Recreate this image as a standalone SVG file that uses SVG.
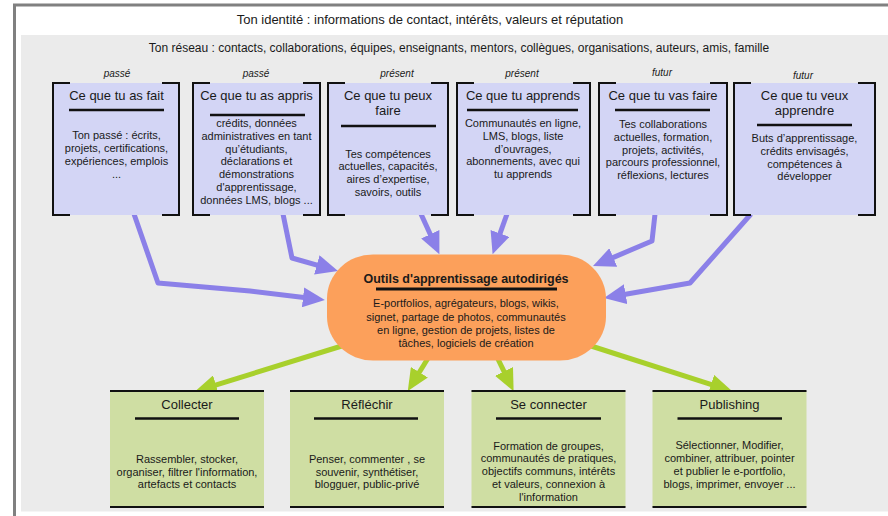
<svg xmlns="http://www.w3.org/2000/svg" width="888" height="516" viewBox="0 0 888 516">
<style>
text{font-family:"Liberation Sans",Arial,Helvetica,sans-serif;fill:#1a1a1a;text-anchor:middle}
.hd{font-size:13px}
.nw{font-size:12px}
.it{font-size:10px;font-style:italic}
.ti{font-size:13px}
.bd{font-size:11px}
.bt{font-size:12.5px;font-weight:bold}
.top{fill:#d3d5f5}
.bot{fill:#cfdea3}
.brk{fill:none;stroke:#111;stroke-width:2}
.sep{stroke:#111;stroke-width:2.5}
.pa{fill:none;stroke:#8b80e8;stroke-width:5;stroke-linejoin:round;marker-end:url(#ap)}
.ga{fill:none;stroke:#a8d02c;stroke-width:5;marker-end:url(#ag)}
</style>
<defs>
<marker id="ap" markerUnits="userSpaceOnUse" markerWidth="22" markerHeight="20" refX="3" refY="10" orient="auto"><path d="M0,0 L22,10 L0,20 z" fill="#8b80e8"/></marker>
<marker id="ag" markerUnits="userSpaceOnUse" markerWidth="22" markerHeight="20" refX="3" refY="10" orient="auto"><path d="M0,0 L22,10 L0,20 z" fill="#a8d02c"/></marker>
</defs>
<rect x="0" y="0" width="888" height="516" fill="#fff"/>
<path d="M14.5,516 V5 H888" fill="none" stroke="#808080" stroke-width="3"/>
<rect x="21" y="35" width="867" height="476.5" fill="#ebebeb"/>
<text class="hd" x="430" y="23.5">Ton identité : informations de contact, intérêts, valeurs et réputation</text>
<text class="nw" x="459" y="52">Ton réseau : contacts, collaborations, équipes, enseignants, mentors, collègues, organisations, auteurs, amis, famille</text>
<g id="connectors">
<path class="pa" d="M134,214 L158,283 L250,291 L306,297.7"/>
<path class="pa" d="M283,214 L292,258 L319.7,265.8"/>
<path class="pa" d="M421,214 L431.5,237"/>
<path class="pa" d="M507,214 L499,236.3"/>
<path class="pa" d="M655,214 L652,241 L610.5,258.6"/>
<path class="pa" d="M751,214 L690,283 L622.7,294.7"/>
<path class="ga" d="M345,345 L213.1,385.9"/>
<path class="ga" d="M430,355 L417.8,374.8"/>
<path class="ga" d="M496,355 L505.3,374.1"/>
<path class="ga" d="M588,345 L713.9,385.3"/>
</g>
<g id="n1">
<text class="it" x="117" y="76.5">passé</text>
<rect class="top" x="53" y="83" width="126" height="132"/>
<path class="brk" d="M70,83 H53 V215 H70 M162,83 H179 V215 H162"/>
<text class="ti" x="116.5" y="100">Ce que tu as fait</text>
<line class="sep" x1="69" y1="110" x2="164" y2="110"/>
<text class="bd" x="116.5" y="138.5">Ton passé : écrits,</text>
<text class="bd" x="116.5" y="151.5">projets, certifications,</text>
<text class="bd" x="116.5" y="164.5">expériences, emplois</text>
<text class="bd" x="116.5" y="177.5">...</text>
</g>
<g id="n2">
<text class="it" x="256" y="76.5">passé</text>
<rect class="top" x="193" y="83" width="127" height="132"/>
<path class="brk" d="M210,83 H193 V215 H210 M303,83 H320 V215 H303"/>
<text class="ti" x="256.5" y="100">Ce que tu as appris</text>
<line class="sep" x1="210" y1="115" x2="305" y2="115"/>
<text class="bd" x="256.5" y="127">crédits, données</text>
<text class="bd" x="256.5" y="139.8">administratives en tant</text>
<text class="bd" x="256.5" y="152.6">qu’étudiants,</text>
<text class="bd" x="256.5" y="165.4">déclarations et</text>
<text class="bd" x="256.5" y="178.2">démonstrations</text>
<text class="bd" x="256.5" y="191">d'apprentissage,</text>
<text class="bd" x="256.5" y="203.8">données LMS, blogs ...</text>
</g>
<g id="n3">
<text class="it" x="397" y="76.5">présent</text>
<rect class="top" x="328" y="83" width="120" height="132"/>
<path class="brk" d="M345,83 H328 V215 H345 M431,83 H448 V215 H431"/>
<text class="ti" x="388" y="100">Ce que tu peux</text>
<text class="ti" x="388" y="115">faire</text>
<line class="sep" x1="341" y1="126" x2="436" y2="126"/>
<text class="bd" x="388" y="157.5">Tes compétences</text>
<text class="bd" x="388" y="170.2">actuelles, capacités,</text>
<text class="bd" x="388" y="182.9">aires d’expertise,</text>
<text class="bd" x="388" y="195.6">savoirs, outils</text>
</g>
<g id="n4">
<text class="it" x="522" y="76.5">présent</text>
<rect class="top" x="457" y="83" width="133" height="132"/>
<path class="brk" d="M474,83 H457 V215 H474 M573,83 H590 V215 H573"/>
<text class="ti" x="523" y="100">Ce que tu apprends</text>
<line class="sep" x1="467" y1="110" x2="578" y2="110"/>
<text class="bd" x="523" y="127.3">Communautés en ligne,</text>
<text class="bd" x="523" y="140">LMS, blogs, liste</text>
<text class="bd" x="523" y="152.7">d’ouvrages,</text>
<text class="bd" x="523" y="165.4">abonnements, avec qui</text>
<text class="bd" x="523" y="178.1">tu apprends</text>
</g>
<g id="n5">
<text class="it" x="662" y="76">futur</text>
<rect class="top" x="599" y="83" width="128" height="132"/>
<path class="brk" d="M616,83 H599 V215 H616 M710,83 H727 V215 H710"/>
<text class="ti" x="663" y="100">Ce que tu vas faire</text>
<line class="sep" x1="615" y1="110" x2="710" y2="110"/>
<text class="bd" x="663" y="128">Tes collaborations</text>
<text class="bd" x="663" y="140.8">actuelles, formation,</text>
<text class="bd" x="663" y="153.6">projets, activités,</text>
<text class="bd" x="663" y="166.4">parcours professionnel,</text>
<text class="bd" x="663" y="179.2">réflexions, lectures</text>
</g>
<g id="n6">
<text class="it" x="803" y="78.5">futur</text>
<rect class="top" x="734" y="83" width="141" height="132"/>
<path class="brk" d="M751,83 H734 V215 H751 M858,83 H875 V215 H858"/>
<text class="ti" x="804.5" y="100">Ce que tu veux</text>
<text class="ti" x="804.5" y="115">apprendre</text>
<line class="sep" x1="757" y1="125" x2="852" y2="125"/>
<text class="bd" x="804.5" y="142.3">Buts d’apprentissage,</text>
<text class="bd" x="804.5" y="155">crédits envisagés,</text>
<text class="bd" x="804.5" y="167.7">compétences à</text>
<text class="bd" x="804.5" y="180.4">développer</text>
</g>
<g id="center">
<rect x="327" y="254.5" width="279" height="106" rx="46" ry="44" fill="#fca05b"/>
<text class="bt" x="466" y="282.5">Outils d'apprentissage autodirigés</text>
<line x1="376" y1="289" x2="557" y2="289" stroke="#111" stroke-width="3"/>
<text class="bd" x="466" y="307.3">E-portfolios, agrégateurs, blogs, wikis,</text>
<text class="bd" x="466" y="320.6">signet, partage de photos, communautés</text>
<text class="bd" x="466" y="333.9">en ligne, gestion de projets, listes de</text>
<text class="bd" x="466" y="347.2">tâches, logiciels de création</text>
</g>
<g id="b1">
<rect class="bot" x="110" y="391" width="154" height="116"/>
<path class="brk" d="M110,391 H264 M110,507 H264"/>
<text class="ti" x="187" y="409">Collecter</text>
<line class="sep" x1="135" y1="418.5" x2="239" y2="418.5"/>
<text class="bd" x="187" y="463">Rassembler, stocker,</text>
<text class="bd" x="187" y="475.7">organiser, filtrer l'information,</text>
<text class="bd" x="187" y="488.4">artefacts et contacts</text>
</g>
<g id="b2">
<rect class="bot" x="290" y="391" width="154" height="116"/>
<path class="brk" d="M290,391 H444 M290,507 H444"/>
<text class="ti" x="367" y="409">Réfléchir</text>
<line class="sep" x1="314" y1="418.5" x2="418" y2="418.5"/>
<text class="bd" x="367" y="463">Penser, commenter , se</text>
<text class="bd" x="367" y="475.7">souvenir, synthétiser,</text>
<text class="bd" x="367" y="488.4">blogguer, public-privé</text>
</g>
<g id="b3">
<rect class="bot" x="471.5" y="391" width="154" height="116"/>
<path class="brk" d="M471.5,391 H625.5 M471.5,507 H625.5"/>
<text class="ti" x="548.5" y="409">Se connecter</text>
<line class="sep" x1="496" y1="418.5" x2="601" y2="418.5"/>
<text class="bd" x="548.5" y="449.7">Formation de groupes,</text>
<text class="bd" x="548.5" y="462.4">communautés de pratiques,</text>
<text class="bd" x="548.5" y="475.1">objectifs communs, intérêts</text>
<text class="bd" x="548.5" y="487.8">et valeurs, connexion à</text>
<text class="bd" x="548.5" y="500.5">l'information</text>
</g>
<g id="b4">
<rect class="bot" x="652.5" y="391" width="154" height="116"/>
<path class="brk" d="M652.5,391 H806.5 M652.5,507 H806.5"/>
<text class="ti" x="729.5" y="409">Publishing</text>
<line class="sep" x1="677.5" y1="418.5" x2="782" y2="418.5"/>
<text class="bd" x="729.5" y="449">Sélectionner, Modifier,</text>
<text class="bd" x="729.5" y="462">combiner, attribuer, pointer</text>
<text class="bd" x="729.5" y="475">et publier le e-portfolio,</text>
<text class="bd" x="729.5" y="488">blogs, imprimer, envoyer ...</text>
</g>
</svg>
